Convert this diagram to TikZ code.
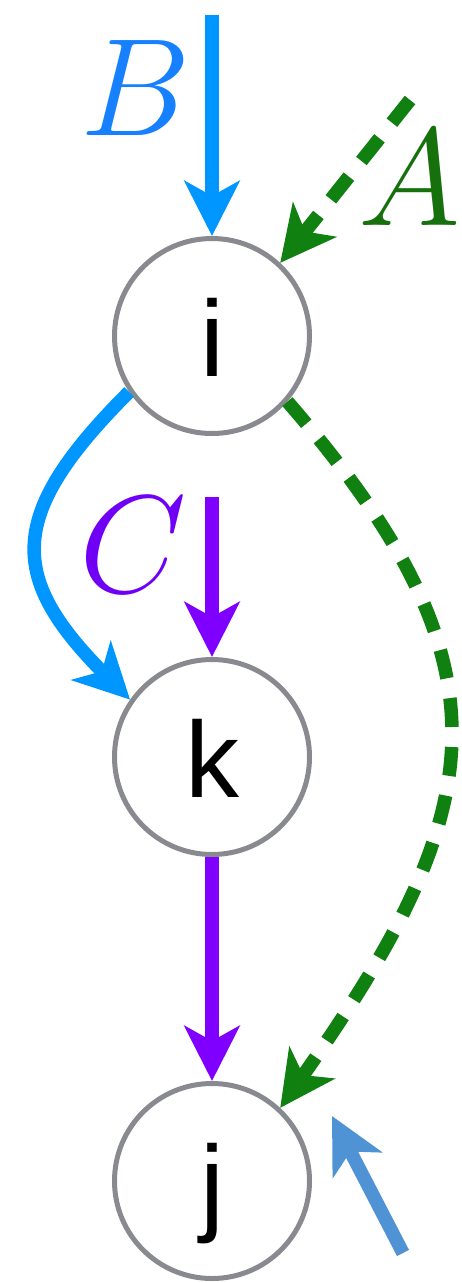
\RequirePackage{fix-cm}
\documentclass[tikz,border=0pt]{standalone}
\usepackage{fontspec}
\newfontfamily\nodefont{Liberation Sans}
\usetikzlibrary{arrows.meta}
\definecolor{cblue}{RGB}{0,150,255}
\definecolor{cbluelab}{RGB}{22,128,255}
\definecolor{cgreen}{RGB}{16,128,16}
\definecolor{cgreenlab}{RGB}{22,112,12}
\definecolor{cpurple}{RGB}{128,0,255}
\definecolor{cpurplelab}{RGB}{112,0,245}
\definecolor{clight}{RGB}{80,147,212}
\definecolor{cgray}{RGB}{136,138,143}
\tikzset{
  vnode/.style={circle, draw=cgray, line width=5pt, fill=white, minimum size=195pt,
    inner sep=0pt, text height=80pt, text depth=0pt,
    font=\nodefont\fontsize{108}{108}\selectfont},
  lab/.style={inner sep=0pt, font=\fontsize{139}{139}\selectfont},
  arr/.style={line width=13.5pt, -{Stealth[length=55pt, width=55pt, inset=15pt]}},
  dgreen/.style={arr, draw=cgreen, dash pattern=on 29pt off 20pt}
}
\begin{document}
\begin{tikzpicture}[x=1pt, y=-1pt]
\useasboundingbox (0,0) rectangle (462,1283);
\node[vnode] (i) at (212,336) {i};
\node[vnode] (k) at (212,757) {k};
\node[vnode] (j) at (212,1181) {j};
\coordinate (b0) at (212,15);
\coordinate (a0) at (410,100);
\coordinate (c0) at (212,497);
\coordinate (l0) at (403,1253);
\coordinate (l1) at (332,1116);
\node[lab, text=cbluelab] (B) at (136,88) {$B$};
\node[lab, text=cgreenlab] (A) at (410,178) {$A$};
\node[lab, text=cpurplelab] (C) at (133,545) {$C$};
\draw[arr, draw=cblue] (b0) -- (i);
\draw[dgreen] (a0) -- (i.47);
\draw[arr, draw=cblue] (i.214) .. controls (7,514) and (7,576) .. (k.145);
\draw[arr, draw=cpurple] (c0) -- (k);
\draw[arr, draw=cpurple] (k) -- (j);
\draw[dgreen] (i.319) .. controls (516,665) and (493,806) .. (j.47);
\draw[arr, draw=clight] (l0) -- (l1);
\end{tikzpicture}
\end{document}
